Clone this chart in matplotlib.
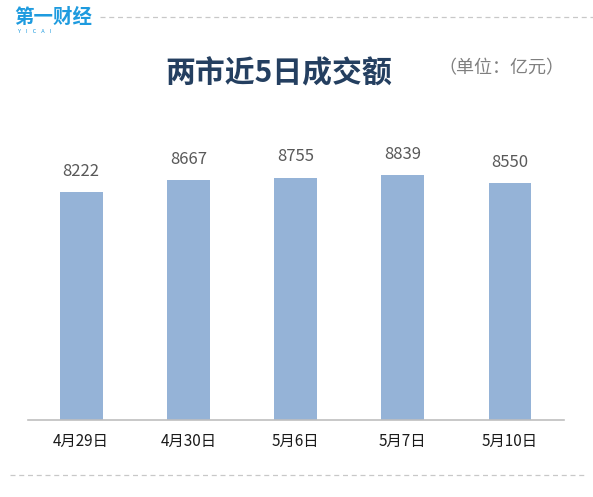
import matplotlib
matplotlib.use("Agg")
import matplotlib.pyplot as plt
from matplotlib.lines import Line2D

plt.rcParams['font.family'] = ['Noto Sans CJK SC', 'DejaVu Sans']

# Daten
dates = ["4月29日", "4月30日", "5月6日", "5月7日", "5月10日"]
turnover = [8222, 8667, 8755, 8839, 8550]

BAR_COLOR = "#95B3D7"
TITLE_COLOR = "#243F60"

fig = plt.figure(figsize=(5.93, 4.97), dpi=100)
ax = fig.add_axes([0.0464, 0.155, 0.904, 0.557])

x = range(len(dates))
ax.bar(x, turnover, width=0.4, color=BAR_COLOR)
ax.set_xlim(-0.5, len(dates) - 0.5)
ax.set_ylim(0, 10000)

for xi, v in zip(x, turnover):
    ax.annotate(f"{v}", (xi, v), xytext=(0, 9), textcoords="offset points",
                ha="center", va="bottom", fontsize=12, color="#595959")

ax.set_xticks(list(x))
ax.set_xticklabels(dates, fontsize=11, color="#1a1a1a")
ax.tick_params(axis="x", length=0, pad=9)
ax.set_yticks([])
for side in ["top", "left", "right"]:
    ax.spines[side].set_visible(False)
ax.spines["bottom"].set_color("#BFBFBF")
ax.spines["bottom"].set_linewidth(1.2)

# Titel und Einheit
fig.text(0.470, 0.852, "两市近5日成交额", ha="center", va="center",
         fontsize=21.5, fontweight="bold", color=TITLE_COLOR)
fig.text(0.845, 0.862, "（单位：亿元）", ha="center", va="center",
         fontsize=13, color="#7F7F7F")

# Logo oben links
fig.text(0.024, 0.964, "第一财经", ha="left", va="center",
         fontsize=14, fontweight="bold", color="#1E9BDF")
fig.text(0.030, 0.937, "Y    I    C    A    I", ha="left", va="center",
         fontsize=4, color="#1E9BDF")

# gestrichelte Linien
fig.add_artist(Line2D([0.168, 1.0], [0.966, 0.966], transform=fig.transFigure,
                      color="#C8C8C8", linestyle=(0, (4, 3)), linewidth=0.9))
fig.add_artist(Line2D([0.017, 0.985], [0.045, 0.045], transform=fig.transFigure,
                      color="#C8C8C8", linestyle=(0, (4, 3)), linewidth=0.9))

plt.savefig("out.png", dpi=100)
plt.close()
